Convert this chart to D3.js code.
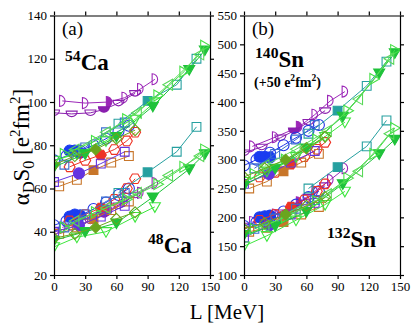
<!DOCTYPE html>
<html>
<head>
<meta charset="utf-8">
<script src="https://cdn.jsdelivr.net/npm/d3@7"></script>
<style>
  body { margin: 0; background: #fff; }
  text { font-family: "Liberation Serif", "Times New Roman", serif; }
</style>
</head>
<body>
<svg id="chart" width="415" height="324"></svg>
<script>
// model families (one line per family, same L values for every nucleus)
const famNames = ["setD", "setCup", "setCircle", "setDot", "setHex", "setSqO", "setSqI",
  "setSqB", "setSqT", "setDownO", "setDownF", "setRight", "setLeft", "setDiamond"];

// symmetry energy slope L [MeV]
const famL = [
  [8, 30, 53, 68, 83, 97],
  [0, 17, 35, 48, 62, 78],
  [0, 12, 25, 38, 50, 62, 72],
  [15, 20, 25],
  [15, 30, 45, 58, 70, 78],
  [5, 22, 38, 55, 72],
  [0, 24, 45, 68],
  [10, 30, 50, 68],
  [62, 90, 118, 137],
  [0, 22, 50, 78, 97],
  [0, 30, 60, 95, 130, 145],
  [10, 40, 70, 100, 125, 145],
  [20, 50, 80, 110, 140],
  [0, 20, 40, 60, 78]
];

// alpha_D * S0 [e^2 fm^2]
const ca54 = [
  [100.5, 99.5, 100, 102, 106, 110.5],
  [95, 94.5, 95, 96.5, 99.5, 104],
  [73, 75, 77.5, 80, 83, 86.5, 89],
  [77.5, 77.5, 76.5],
  [70, 73, 75.5, 78, 82, 86],
  [61, 64, 68.5, 72, 75],
  [63, 67, 71.5, 77],
  [71, 79, 86, 90.5],
  [90, 100.5, 108, 120],
  [73, 76, 82, 92, 100],
  [70, 76, 84, 98, 115, 124],
  [76, 82, 92, 103, 114, 126],
  [78, 86, 95, 108, 122],
  [71, 75, 78, 83, 87]
];
const ca48 = [
  [42, 46, 50, 54, 58, 62.5],
  [40, 42, 45, 48, 52, 57],
  [43, 45, 47.5, 50.5, 53.5, 57, 60],
  [47, 48, 47.5],
  [45, 48, 51, 55, 60, 64.5],
  [39, 42, 46, 50, 54],
  [40, 43, 47, 52],
  [42, 48, 54, 58],
  [58, 67.5, 77, 88.5],
  [33, 37.5, 40, 47, 51.5],
  [36, 40, 44, 56, 69, 76],
  [42, 49, 55, 62, 70, 78],
  [45, 51, 58, 66, 75],
  [37, 39, 42, 46, 49]
];
// 140Sn values already shifted by +50
const sn140 = [
  [323, 339, 357, 378, 402, 418],
  [312, 322, 338, 350, 365, 385],
  [290, 300, 312, 325, 338, 350, 360],
  [305, 305, 304],
  [270, 278, 292, 305, 318, 330],
  [250, 262, 280, 295, 310],
  [258, 275, 295, 315],
  [285, 310, 335, 360],
  [345, 385, 428, 470],
  [262, 280, 305, 340, 365],
  [255, 285, 320, 375, 450, 485],
  [275, 300, 335, 385, 440, 490],
  [290, 318, 350, 405, 475],
  [270, 285, 300, 320, 340]
];
const sn132 = [
  [192, 205, 226, 245, 265, 285],
  [185, 195, 208, 220, 235, 255],
  [185, 192, 200, 210, 222, 235, 245],
  [200, 202, 203],
  [195, 205, 218, 230, 245, 258],
  [175, 182, 192, 205, 218],
  [165, 186, 205, 225],
  [180, 198, 215, 230],
  [250, 287, 323, 368],
  [150, 168, 195, 222, 245],
  [170, 185, 210, 258, 310, 335],
  [180, 200, 228, 268, 310, 355],
  [185, 210, 240, 280, 345],
  [180, 190, 205, 220, 235]
];

const xTicks = [0, 30, 60, 90, 120, 150];
const yTicksA = [20, 40, 60, 80, 100, 120, 140];
const yTicksB = [100, 150, 200, 250, 300, 350, 400, 450, 500, 550];

// styles
const famColor = ["#9c27b8", "#8a1fae", "#2236e6", "#1a3cf0", "#ee3324", "#c8762a", "#6434e0",
  "#3a6fd0", "#26a0a0", "#3ee63e", "#1fc23a", "#46e046", "#5ad85a", "#6aa51e"];
const famShape = ["D", "cup", "circle", "circle", "hex", "square", "square",
  "square", "square", "down", "down", "right", "left", "diamond"];
const famAllFilled = [false, false, false, true, false, false, false, false, false, false, true, false, false, false];
const famFillIdx = [2, 3, -1, -1, 2, 2, 1, -1, 1, -1, -1, -1, -1, 2];

const serif = "'Liberation Serif', 'Times New Roman', serif";
const svg = d3.select("#chart");

function symbolPath(shape, r) {
  const h = r * 0.8;
  switch (shape) {
    case "circle":
      return `M${-r},0A${r},${r} 0 1 0 ${r},0A${r},${r} 0 1 0 ${-r},0Z`;
    case "D":
      return `M${-r / 2},${-r}L${-r / 2},${r}A${r},${r} 0 0 0 ${-r / 2},${-r}Z`;
    case "cup":
      return `M${-r},${-r / 2}L${r},${-r / 2}A${r},${r} 0 0 1 ${-r},${-r / 2}Z`;
    case "hex":
      return "M" + d3.range(6).map(i => [r * Math.cos(i * Math.PI / 3), r * Math.sin(i * Math.PI / 3)].join(",")).join("L") + "Z";
    case "square":
      return `M${-h},${-h}H${h}V${h}H${-h}Z`;
    case "diamond":
      return `M0,${-r}L${r},0L0,${r}L${-r},0Z`;
    case "down":
      return `M0,${r}L${-r},${-r * 0.75}L${r},${-r * 0.75}Z`;
    case "up":
      return `M0,${-r}L${-r},${r * 0.75}L${r},${r * 0.75}Z`;
    case "right":
      return `M${r},0L${-r * 0.75},${-r}L${-r * 0.75},${r}Z`;
    case "left":
      return `M${-r},0L${r * 0.75},${-r}L${r * 0.75},${r}Z`;
  }
}

function drawPanel(id, x, y, yTicks, sets) {
  const [x0, x1] = x.range();
  const [y1, y0] = y.range();
  svg.append("clipPath").attr("id", "clip" + id)
    .append("rect").attr("x", x0).attr("y", y0).attr("width", x1 - x0).attr("height", y1 - y0);
  const g = svg.append("g").attr("clip-path", `url(#clip${id})`);
  const line = d3.line().x(d => x(d[0])).y(d => y(d[1]));

  sets.forEach(set => {
    famL.forEach((Ls, f) => {
      const pts = Ls.map((L, i) => [L, set[f][i]]);
      g.append("path")
        .attr("d", line(pts))
        .attr("fill", "none")
        .attr("stroke", famColor[f])
        .attr("stroke-width", 1);
      g.selectAll(null)
        .data(pts)
        .enter()
        .append("path")
        .attr("transform", d => `translate(${x(d[0])},${y(d[1])})`)
        .attr("d", (d, i) => symbolPath(f === 6 && i === famFillIdx[f] ? "circle" : famShape[f], 5.5))
        .attr("fill", (d, i) => (famAllFilled[f] || i === famFillIdx[f]) ? famColor[f] : "none")
        .attr("stroke", famColor[f])
        .attr("stroke-width", 1.1);
    });
  });

  // frame axes, outward ticks
  const fmt = d3.format("d");
  svg.append("g").attr("transform", `translate(0,${y1})`)
    .call(d3.axisBottom(x).tickValues(xTicks).tickSize(4).tickSizeOuter(0).tickFormat(fmt));
  svg.append("g").attr("transform", `translate(0,${y0})`)
    .call(d3.axisTop(x).tickValues(xTicks).tickSize(4).tickSizeOuter(0).tickFormat(""));
  svg.append("g").attr("transform", `translate(${x0},0)`)
    .call(d3.axisLeft(y).tickValues(yTicks).tickSize(4).tickSizeOuter(0).tickFormat(fmt));
  svg.append("g").attr("transform", `translate(${x1},0)`)
    .call(d3.axisRight(y).tickValues(yTicks).tickSize(4).tickSizeOuter(0).tickFormat(""));
  svg.selectAll(".tick text")
    .attr("font-family", serif)
    .style("font-family", serif)
    .style("font-size", "13px")
    .attr("fill", "#000");
  svg.selectAll(".domain, .tick line").attr("stroke", "#000").attr("stroke-width", 1.2);
}

const xA = d3.scaleLinear([0, 150], [54, 210]);
const yA = d3.scaleLinear([20, 140], [275, 15.5]);
const xB = d3.scaleLinear([0, 150], [244, 400]);
const yB = d3.scaleLinear([100, 550], [275, 15.5]);

drawPanel("A", xA, yA, yTicksA, [ca54, ca48]);
drawPanel("B", xB, yB, yTicksB, [sn140, sn132]);

// labels
function label(xp, yp, parts, size, weight) {
  const t = svg.append("text").attr("x", xp).attr("y", yp)
    .attr("font-family", serif)
    .attr("font-size", size).attr("font-weight", weight || "normal");
  parts.forEach(p => {
    const s = t.append("tspan").text(p[0]);
    if (p[1] === "sup") s.attr("font-size", size * 0.68).attr("dy", -size * 0.4);
    if (p[1] === "back") s.attr("dy", p[2]);
  });
  return t;
}

label(62, 35, [["(a)"]], 19);
label(252, 35, [["(b)"]], 19);

label(65, 70, [["54", "sup"], ["Ca", "back", 23 * 0.4]], 23, "bold");
label(148, 253, [["48", "sup"], ["Ca", "back", 23 * 0.4]], 23, "bold");
label(255, 67, [["140", "sup"], ["Sn", "back", 23 * 0.4]], 23, "bold");
label(327, 247, [["132", "sup"], ["Sn", "back", 23 * 0.4]], 23, "bold");
label(254, 87, [["(+50 e"], ["2", "sup"], ["fm", "back", 14 * 0.4], ["2", "sup"], [")", "back", 14 * 0.4]], 14, "bold");

// y title
const yt = svg.append("text")
  .attr("transform", "translate(29,147) rotate(-90)")
  .attr("text-anchor", "middle")
  .attr("font-family", serif)
  .attr("font-size", 23);
yt.append("tspan").text("α");
yt.append("tspan").text("D").attr("font-size", 16).attr("dy", 5);
yt.append("tspan").text("S").attr("dy", -5);
yt.append("tspan").text("0").attr("font-size", 16).attr("dy", 5);
yt.append("tspan").text(" [e").attr("dy", -5);
yt.append("tspan").text("2").attr("font-size", 15).attr("dy", -9);
yt.append("tspan").text("fm").attr("dy", 9);
yt.append("tspan").text("2").attr("font-size", 15).attr("dy", -9);
yt.append("tspan").text("]").attr("dy", 9);

svg.append("text")
  .attr("x", 227).attr("y", 319)
  .attr("text-anchor", "middle")
  .attr("font-family", serif)
  .attr("font-size", 21)
  .text("L [MeV]");
</script>
</body>
</html>
